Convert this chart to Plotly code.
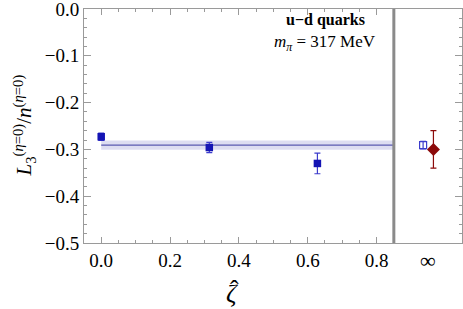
import plotly.graph_objects as go

# data
zeta = [0.0, 0.314, 0.628]
ratio = [-0.273, -0.296, -0.330]
ratio_err = [0.008, 0.011, 0.022]

inf_open_x = [0.935]
inf_open_val = [-0.291]
inf_open_err = [0.008]

inf_dia_x = [0.965]
inf_dia_val = [-0.300]
inf_dia_err = [0.040]

fit_x = [0.0, 0.85]
fit_val = -0.291
fit_err = 0.010

xticks = [0.0, 0.2, 0.4, 0.6, 0.8]
xticklabels = ["0.0", "0.2", "0.4", "0.6", "0.8"]
yticks = [0.0, -0.1, -0.2, -0.3, -0.4, -0.5]
yticklabels = ["0.0", "\u22120.1", "\u22120.2", "\u22120.3", "\u22120.4", "\u22120.5"]

SERIF = "Liberation Serif"

fig = go.Figure()

# fit band
fig.add_trace(go.Scatter(
    x=[fit_x[0], fit_x[1], fit_x[1], fit_x[0], fit_x[0]],
    y=[fit_val + fit_err, fit_val + fit_err, fit_val - fit_err, fit_val - fit_err, fit_val + fit_err],
    fill="toself", fillcolor="rgba(150,150,210,0.32)", line=dict(width=0),
    mode="lines", hoverinfo="skip", showlegend=False))
fig.add_trace(go.Scatter(
    x=fit_x, y=[fit_val, fit_val], mode="lines",
    line=dict(color="#5a5ab0", width=1.3), showlegend=False))

# lattice points
fig.add_trace(go.Scatter(
    x=zeta, y=ratio, mode="markers",
    marker=dict(symbol="square", size=7.5, color="#1414b4"),
    error_y=dict(type="data", array=ratio_err, color="#3c3ccc", thickness=1.2, width=3),
    showlegend=False))

# extrapolated open square
fig.add_trace(go.Scatter(
    x=inf_open_x, y=inf_open_val, mode="markers",
    marker=dict(symbol="square-open", size=7, color="#3c3ccc", line=dict(width=1.2)),
    error_y=dict(type="data", array=inf_open_err, color="#3c3ccc", thickness=1.2, width=3),
    showlegend=False))

# diamond
fig.add_trace(go.Scatter(
    x=inf_dia_x, y=inf_dia_val, mode="markers",
    marker=dict(symbol="diamond", size=10, color="#8c0a0a"),
    error_y=dict(type="data", array=inf_dia_err, color="#8c0a0a", thickness=1.2, width=3),
    showlegend=False))

fig.add_shape(type="line", x0=0.85, x1=0.85, y0=0, y1=1, xref="x", yref="paper",
              line=dict(color="#8a8a8a", width=3))

fig.add_annotation(x=0.638, y=0.953, xref="paper", yref="paper",
                   text="<b>u\u2212d quarks</b>", showarrow=False,
                   font=dict(family=SERIF, size=16, color="black"), xanchor="center", yanchor="middle")
fig.add_annotation(x=0.638, y=0.855, xref="paper", yref="paper",
                   text="<i>m</i><sub><i>\u03c0</i></sub> = 317 MeV", showarrow=False,
                   font=dict(family=SERIF, size=17, color="black"), xanchor="center", yanchor="middle")
fig.add_annotation(x=0.95, y=0, xref="x", yref="paper", yshift=-17,
                   text="\u221e", showarrow=False,
                   font=dict(family=SERIF, size=22, color="black"), yanchor="middle")

# x axis title: zeta with hat
fig.add_annotation(x=0.392, y=0, xref="paper", yref="paper", yshift=-50,
                   text="<i>\u03b6</i>", showarrow=False,
                   font=dict(family=SERIF, size=26, color="black"), yanchor="middle")
fig.add_annotation(x=0.397, y=0, xref="paper", yref="paper", yshift=-46,
                   text="\u02c6", showarrow=False,
                   font=dict(family=SERIF, size=26, color="black"), yanchor="middle")

# y axis title
fig.add_annotation(x=-0.16, y=0.5, xref="paper", yref="paper", textangle=-90,
                   text="<i>L</i><sub>3</sub><sup>(<i>\u03b7</i>=0)</sup>/<i>n</i><sup>(<i>\u03b7</i>=0)</sup>",
                   showarrow=False, font=dict(family=SERIF, size=21, color="black"),
                   xanchor="center", yanchor="middle")

axis_common = dict(
    showline=True, linecolor="#9a9a9a", linewidth=1, mirror="ticks",
    ticks="inside", tickcolor="#9a9a9a", showgrid=False, zeroline=False,
    automargin=False, ticklabeloverflow="allow",
    tickfont=dict(family=SERIF, size=19, color="black"),
)

fig.update_xaxes(
    range=[-0.05, 1.048], tickvals=xticks, ticktext=xticklabels, ticklen=6,
    minor=dict(tickvals=[0.05, 0.1, 0.15, 0.25, 0.3, 0.35, 0.45, 0.5, 0.55, 0.65, 0.7, 0.75, 0.85],
               ticks="inside", ticklen=3, tickcolor="#9a9a9a"),
    **axis_common)
fig.update_yaxes(
    range=[-0.5, 0.0], tickvals=yticks, ticktext=yticklabels, ticklen=7,
    minor=dict(dtick=0.02, tick0=0, ticks="inside", ticklen=3, tickcolor="#9a9a9a"),
    **axis_common)

fig.update_layout(
    width=463, height=309,
    margin=dict(l=84, r=1, t=9, b=66),
    paper_bgcolor="white", plot_bgcolor="white",
)

fig.write_html("out.html", config={"displayModeBar": False},
               post_script="document.body.style.margin='0';")
